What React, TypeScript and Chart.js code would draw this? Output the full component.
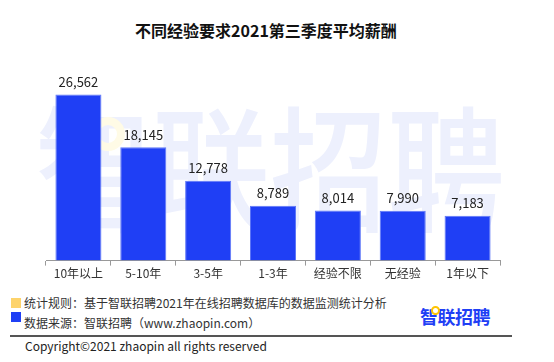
import React, { useEffect, useRef } from "react";
import { Chart, registerables } from "chart.js";

Chart.register(...registerables);

const categories = ["10年以上", "5-10年", "3-5年", "1-3年", "经验不限", "无经验", "1年以下"];
const salaries = [26562, 18145, 12778, 8789, 8014, 7990, 7183];

const title = "不同经验要求2021第三季度平均薪酬";
const note1 = "统计规则：基于智联招聘2021年在线招聘数据库的数据监测统计分析";
const note2 = "数据来源：智联招聘（www.zhaopin.com）";
const copyright = "Copyright©2021 zhaopin all rights reserved";
const brand = "智联招聘";

const FONT = "'Noto Sans CJK SC', 'Noto Sans', sans-serif";
const BLUE = "#1f3ff5";

const watermarkPlugin = {
  id: "watermark",
  beforeDraw(chart: any) {
    const ctx = chart.ctx;
    ctx.save();
    ctx.font = `500 136px ${FONT}`;
    ctx.fillStyle = "#edf0fd";
    ctx.textBaseline = "middle";
    ctx.textAlign = "left";
    const w = ctx.measureText(brand).width;
    const targetW = 470;
    ctx.translate(35, 170);
    ctx.scale(targetW / w, 1);
    ctx.fillText(brand, 0, 0);
    ctx.restore();
    ctx.save();
    ctx.strokeStyle = "#fffbe6";
    ctx.lineWidth = 8;
    ctx.beginPath();
    ctx.arc(108, 134, 13, 0, Math.PI * 2);
    ctx.stroke();
    ctx.restore();
  },
};

const valueLabelPlugin = {
  id: "valueLabels",
  afterDatasetsDraw(chart: any) {
    const ctx = chart.ctx;
    const meta = chart.getDatasetMeta(0);
    ctx.save();
    ctx.font = `13px ${FONT}`;
    ctx.fillStyle = "#222";
    ctx.textAlign = "center";
    ctx.textBaseline = "bottom";
    meta.data.forEach((bar: any, i: number) => {
      const v = chart.data.datasets[0].data[i] as number;
      ctx.fillText(v.toLocaleString("en-US"), bar.x, bar.y - 6);
    });
    ctx.restore();
  },
};

export default function App() {
  const ref = useRef<HTMLCanvasElement>(null);
  useEffect(() => {
    if (!ref.current) return;
    const chart = new Chart(ref.current, {
      type: "bar",
      data: {
        labels: categories,
        datasets: [
          {
            data: salaries,
            backgroundColor: BLUE,
            borderColor: "#5f78f7",
            borderWidth: 1,
            categoryPercentage: 1,
            barPercentage: 0.71,
          },
        ],
      },
      options: {
        animation: false,
        responsive: false,
        maintainAspectRatio: false,
        layout: { padding: { left: 46, right: 54, top: 73, bottom: 0 } },
        plugins: { legend: { display: false }, tooltip: { enabled: false }, title: { display: false } },
        scales: {
          x: {
            grid: { display: true, drawOnChartArea: false, drawTicks: true, tickLength: 5, color: "#999", offset: true },
            border: { display: true, color: "#999", width: 1 },
            ticks: { color: "#333", font: { size: 12, family: FONT }, padding: 1, maxRotation: 0 },
          },
          y: { display: false, min: 0, max: 30000 },
        },
      },
      plugins: [watermarkPlugin, valueLabelPlugin],
    });
    return () => chart.destroy();
  }, []);

  const abs = (s: React.CSSProperties): React.CSSProperties => ({ position: "absolute", ...s });

  return (
    <div style={{ position: "absolute", left: 0, top: 0, width: 554, height: 362, background: "#fff", overflow: "hidden", fontFamily: FONT }}>
      <div style={abs({ left: 0, top: 18, width: 532, textAlign: "center", fontSize: 16, fontWeight: 700, color: "#111", lineHeight: "24px" })}>{title}</div>
      <canvas ref={ref} width={554} height={282} style={abs({ left: 0, top: 0, width: 554, height: 282 })} />
      <div style={abs({ left: 11, top: 298, width: 10, height: 10, background: "#fdd36b" })} />
      <div style={abs({ left: 11, top: 312, width: 10, height: 10, background: BLUE })} />
      <div style={abs({ left: 24, top: 294, fontSize: 12, color: "#333", lineHeight: "18px", whiteSpace: "nowrap" })}>{note1}</div>
      <div style={abs({ left: 24, top: 314, fontSize: 12, color: "#333", lineHeight: "18px", whiteSpace: "nowrap" })}>{note2}</div>
      <div style={abs({ left: 420, top: 304, fontSize: 18, fontWeight: 700, color: BLUE, lineHeight: "24px", whiteSpace: "nowrap", letterSpacing: -0.5 })}>{brand}</div>
      <div style={abs({ left: 431, top: 306, width: 5, height: 5, borderRadius: "50%", border: "2px solid #ffc400", background: "#fff" })} />
      <div style={abs({ left: 10, top: 335, width: 502, height: 2, background: "#555" })} />
      <div style={abs({ left: 25, top: 337, fontSize: 12, color: "#222", lineHeight: "18px", whiteSpace: "nowrap" })}>{copyright}</div>
    </div>
  );
}
